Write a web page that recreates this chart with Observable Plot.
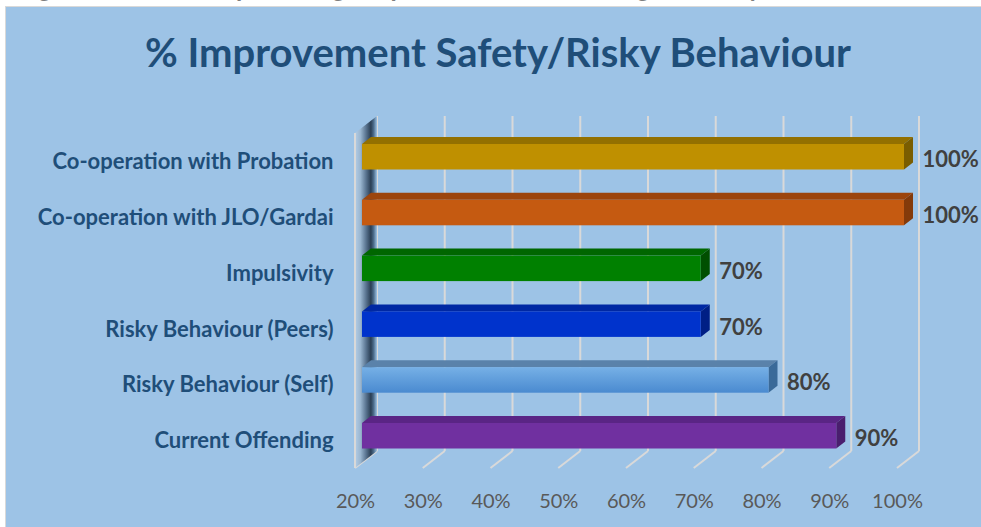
<!DOCTYPE html>
<html><head><meta charset="utf-8">
<script src="https://cdn.jsdelivr.net/npm/d3@7"></script>
<script src="https://cdn.jsdelivr.net/npm/@observablehq/plot@0.6"></script>
<style>
html,body{margin:0;padding:0;background:#fff;width:981px;height:527px;overflow:hidden;font-family:Lato,sans-serif;}
#strip{position:absolute;left:0;top:0;width:981px;height:6px;overflow:hidden;}
#strip span{position:absolute;left:-52px;top:-26px;font:italic bold 26px/26px Lato,sans-serif;color:#7f7f7f;white-space:nowrap;}
#frame{position:absolute;left:5px;top:6px;width:990px;height:530px;border:1.5px solid #d9d9d9;background:#9dc3e6;}
#title{position:absolute;left:0;top:28px;width:996px;text-align:center;font:bold 40px Lato,sans-serif;color:#1f4e79;}
#chart{position:absolute;left:0;top:100px;}
#chart g[aria-label="x-axis tick label"]{font-size:20px;fill:#595959;}
#chart g[aria-label="y-axis tick label"]{font-size:22px;font-weight:bold;fill:#1f4e79;}
</style>
</head><body>
<div id="strip"><span>Following chart shows the percentage improvement in Offending and Risky Behaviour</span></div>
<div id="frame"></div>
<div id="title">% Improvement Safety/Risky Behaviour</div>
<div id="chart"></div>
<script>
// ---- data ----
const categories = ["Co-operation with Probation","Co-operation with JLO/Gardai","Impulsivity","Risky Behaviour (Peers)","Risky Behaviour (Self)","Current Offending"];
const values = [100, 100, 70, 70, 80, 90];
const xTicks = [20, 30, 40, 50, 60, 70, 80, 90, 100];
// ---- styles ----
const frontColors = ["#BF9000","#C55A11","#008000","#0033CC","url(#selfGrad)","#7030A0"];
const topColors   = ["#937000","#9C450D","#006600","#0028A3","#5A82AA","#5A2585"];
const sideColors  = ["#7A5D00","#843A0A","#004F00","#001F85","#3A6A99","#4A1E6E"];

const data = categories.map((category, i) => ({category, value: values[i], i}));
const base = xTicks[0];
const DX = 9, DY = 7; // bar depth (px)

function wallMark(index, scales) {
  const x = scales.x, [r0, r1] = scales.y.range();
  const fFloor = r1 - 10.8, bFloor = r1 - 27.8, bTop = r0 + 2.3, fTop = r0 + 19.3;
  const g = d3.create("svg:g");
  const defs = g.append("defs");
  const wg = defs.append("linearGradient").attr("id","wallGrad").attr("x1",0).attr("x2",1).attr("y1",0).attr("y2",0);
  [[0,"#b3cde6"],[0.25,"#9ab6d0"],[0.5,"#5a7591"],[0.72,"#2a3e54"],[0.85,"#4d6d8c"],[1,"#9dc3e6"]]
    .forEach(([o,c]) => wg.append("stop").attr("offset",o).attr("stop-color",c));
  const sg = defs.append("linearGradient").attr("id","selfGrad").attr("x1",0).attr("x2",0).attr("y1",0).attr("y2",1);
  [[0,"#76B0E6"],[1,"#4A8AD0"]].forEach(([o,c]) => sg.append("stop").attr("offset",o).attr("stop-color",c));
  for (const t of xTicks) {
    const xt = x(t);
    g.append("line").attr("x1", xt + 15).attr("x2", xt + 15).attr("y1", bTop).attr("y2", bFloor)
      .attr("stroke", "#d9d9d9").attr("stroke-width", 2);
    g.append("line").attr("x1", xt - 7).attr("x2", xt + 15).attr("y1", fFloor).attr("y2", bFloor)
      .attr("stroke", "#d9d9d9").attr("stroke-width", 2);
  }
  const x0 = x(base);
  g.append("polygon").attr("points", [[x0-7,fTop],[x0+15,bTop],[x0+15,bFloor],[x0-7,fFloor]].join(" "))
    .attr("fill","url(#wallGrad)");
  g.append("line").attr("x1", x0 - 7).attr("x2", x0 - 7).attr("y1", fTop).attr("y2", fFloor)
    .attr("stroke", "#d9d9d9").attr("stroke-width", 2);
  return g.node();
}

function faceMark(index, scales) {
  const x = scales.x, y = scales.y, bw = y.bandwidth ? y.bandwidth() : 25.5;
  const g = d3.create("svg:g");
  data.forEach((d, i) => {
    const xa = x(base), xb = x(d.value), yt = y(d.category), yb = yt + bw;
    g.append("polygon").attr("points", [[xa,yt],[xa+DX,yt-DY],[xb+DX,yt-DY],[xb,yt]].join(" ")).attr("fill", topColors[i]);
    g.append("polygon").attr("points", [[xb,yt],[xb+DX,yt-DY],[xb+DX,yb-DY],[xb,yb]].join(" ")).attr("fill", sideColors[i]);
  });
  return g.node();
}

const chart = Plot.plot({
  width: 981,
  height: 427,
  marginLeft: 362,
  marginRight: 77,
  marginTop: 14,
  marginBottom: 48,
  style: {background: "transparent", fontFamily: "Lato, sans-serif", overflow: "visible"},
  x: {domain: [20, 100], range: [362, 904]},
  y: {domain: categories, range: [13.7, 378.8], padding: 0.543, round: false},
  color: {type: "identity"},
  marks: [
    wallMark,
    faceMark,
    Plot.barX(data, {x1: base, x2: "value", y: "category", fill: (d, i) => frontColors[d.i]}),
    Plot.text(data, {x: "value", y: "category", text: d => d.value + "%", dx: 18, dy: 3, textAnchor: "start",
      fontSize: 22, fontWeight: "bold", fill: "#404040"}),
    Plot.axisX(xTicks, {anchor: "bottom", tickSize: 0, tickPadding: 14, dx: -7, tickFormat: d => d + "%",
      label: null, fontSize: 20, color: "#595959"}),
    Plot.axisY({anchor: "left", tickSize: 0, tickPadding: 29, dy: 5, label: null,
      fontSize: 22, fontWeight: "bold", color: "#1f4e79"})
  ]
});
document.getElementById("chart").appendChild(chart);
</script>
</body></html>
